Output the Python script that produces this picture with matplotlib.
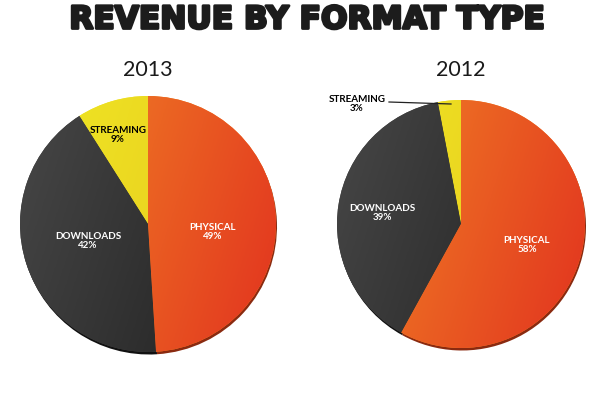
import numpy as np
import matplotlib
matplotlib.use("Agg")
import matplotlib.pyplot as plt
import matplotlib.patheffects as pe
from matplotlib.colors import LinearSegmentedColormap

# ---- data ----
title = "REVENUE BY FORMAT TYPE"
years = ["2013", "2012"]
categories = ["STREAMING", "DOWNLOADS", "PHYSICAL"]
shares_2013 = [9, 42, 49]
shares_2012 = [3, 39, 58]
shares = [shares_2013, shares_2012]

# ---- style ----
grad_colors = {
    "PHYSICAL": ("#F28A26", "#E2331F"),
    "DOWNLOADS": ("#474747", "#1E1E1E"),
    "STREAMING": ("#F0E824", "#E6C41E"),
}
shadow_colors = {"PHYSICAL": "#8A2A10", "DOWNLOADS": "#111111", "STREAMING": "#8A7A10"}
label_colors = {"PHYSICAL": "white", "DOWNLOADS": "white", "STREAMING": "black"}

fig = plt.figure(figsize=(6, 4), dpi=100)
ax = fig.add_axes([0, 0, 1, 1])

centers = [(148, 176), (461, 176)]
radii = [128, 124]

# label positions (pixel coords, y from top) per pie
label_pos = [
    {"STREAMING": (118, 135), "DOWNLOADS": (88, 241), "PHYSICAL": (213, 232)},
    {"STREAMING": (357, 104), "DOWNLOADS": (382, 213), "PHYSICAL": (527, 245)},
]

for i, (vals, c, r) in enumerate(zip(shares, centers, radii)):
    # shadow underneath
    ax.pie(vals, startangle=90, counterclock=True, center=(c[0] + 1, c[1] - 2.5),
           radius=r, colors=[shadow_colors[k] for k in categories],
           wedgeprops=dict(linewidth=0), frame=True)
    wedges, _ = ax.pie(vals, startangle=90, counterclock=True, center=c, radius=r,
                       colors=[grad_colors[k][0] for k in categories],
                       wedgeprops=dict(linewidth=0), frame=True)
    for w, k in zip(wedges, categories):
        cmap = LinearSegmentedColormap.from_list(k, grad_colors[k])
        n = 200
        xx, yy = np.meshgrid(np.linspace(0, 1, n), np.linspace(0, 1, n))
        g = 0.75 * xx + 0.25 * (1 - yy)
        im = ax.imshow(g, cmap=cmap, origin="lower",
                       extent=[c[0] - r, c[0] + r, c[1] - r, c[1] + r],
                       zorder=w.get_zorder() + 0.1, interpolation="bilinear")
        im.set_clip_path(w)
    for k, v in zip(categories, vals):
        px, py = label_pos[i][k]
        ax.text(px, 400 - py, f"{k}\n{v}%", ha="center", va="center",
                fontsize=7.1, fontweight="bold", family=["Lato", "DejaVu Sans"],
                color=label_colors[k], linespacing=1.05, zorder=10)
    ax.text(c[0], 400 - 70, years[i], ha="center", va="center", fontsize=15.5,
            family=["Lato", "DejaVu Sans"], color="#1a1a1a", zorder=10)

# leader line for 2012 streaming
ax.plot([389, 451], [400 - 102, 400 - 104], color="#222222", lw=0.9, zorder=11)

ax.set_xlim(0, 600)
ax.set_ylim(0, 400)
ax.set_aspect("equal")
ax.axis("off")

fig.text(307 / 600, 1 - 20 / 400, title, ha="center", va="center", fontsize=22.5,
         fontweight="bold", family=["DejaVu Sans"], color="#1c1c1c",
         path_effects=[pe.withStroke(linewidth=2.0, foreground="#1c1c1c")])

fig.savefig("out.png", dpi=100, facecolor="white")
